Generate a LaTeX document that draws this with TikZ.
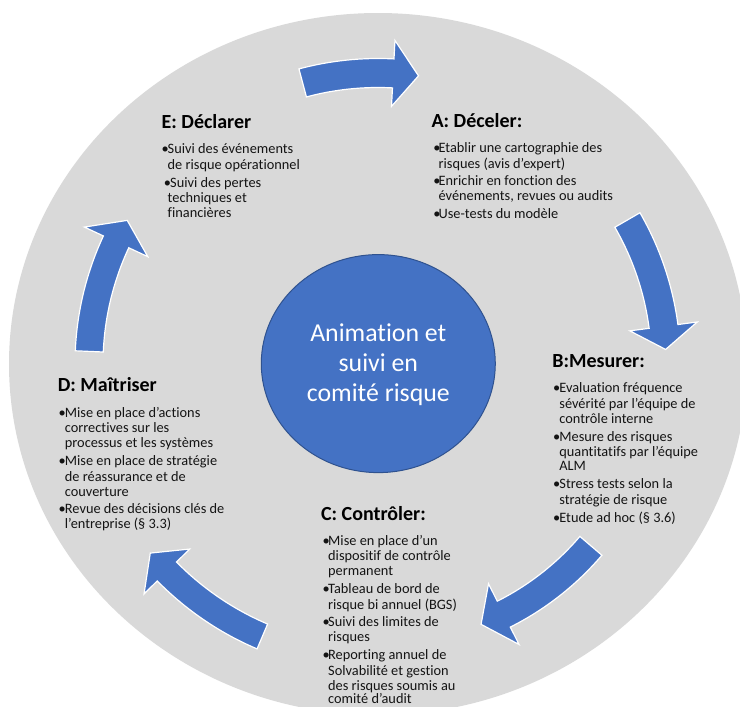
\documentclass[tikz,border=0pt]{standalone}
\usepackage{fontspec}
\setmainfont{Carlito}[Ligatures=NoCommon]
\usetikzlibrary{shapes.geometric}
\definecolor{bggrey}{HTML}{D9D9D9}
\definecolor{hubblue}{HTML}{4472C4}
\definecolor{hubline}{HTML}{2F528F}
\definecolor{txtcol}{HTML}{141414}
\newcommand\bodyfont{\fontsize{14.35pt}{15.2pt}\selectfont}
\newcommand\headfont{\fontsize{20pt}{24pt}\selectfont\bfseries}
\newcommand\hubfont{\fontsize{25.8pt}{31pt}\selectfont}
\newcommand\bl[1]{\makebox[#1][l]{\textbullet}}
\newcommand\cycarrow[6]{%
  \pgfmathsetmacro\cyRo{#1+#2}\pgfmathsetmacro\cyRi{#1-#2}%
  \pgfmathsetmacro\cyHo{#1+#6}\pgfmathsetmacro\cyHi{#1-#6}%
  \filldraw[arrowshape] (#3:\cyRo) arc[start angle=#3,end angle=#4,radius=\cyRo]
    -- (#4:\cyHo) -- (#5:#1) -- (#4:\cyHi) -- (#4:\cyRi)
    arc[start angle=#4,end angle=#3,radius=\cyRi] -- cycle;}
\tikzset{
  txt/.style={anchor=base west, inner sep=0pt, font=\bodyfont, text=txtcol},
  head/.style={anchor=base west, inner sep=0pt, font=\headfont, text=black},
  hubtxt/.style={anchor=base, inner sep=0pt, font=\hubfont, text=white},
  hub/.style={ellipse, fill=hubblue, draw=hubline, line width=1pt, inner sep=0pt},
  arrowshape/.style={fill=hubblue, draw=white, line width=1.2pt, line join=miter}
}
\begin{document}
\begin{tikzpicture}[x=1pt,y=1pt]
\useasboundingbox (0,0) rectangle (740,-707);
\clip (0,0) rectangle (740,-707);
% background disc
\fill[bggrey] (378,-364) ellipse [x radius=369, y radius=351];
% central hub
\node[hub, minimum width=234pt, minimum height=218pt] (hub) at (378.3,-363.6) {};
\node[hubtxt] (c1) at (378.3,-341.5) {Animation et};
\node[hubtxt] (c2) at (378.3,-371.3) {suivi en};
\node[hubtxt] (c3) at (378.3,-401.3) {comité risque};
% cycle arrows
\begin{scope}[shift={(378,-364)}]
  \cycarrow{291}{14.5}{105}{87}{82}{33}
  \cycarrow{288}{14.5}{30}{7.5}{2.9}{34}
  \cycarrow{280}{14.5}{-40.5}{-63.3}{-68.4}{34}
  \cycarrow{296}{13.5}{-113}{-135.5}{-140.3}{32}
  \cycarrow{289}{14}{177.5}{155}{150.2}{35}
\end{scope}
% E block
\node[head] (eh) at (161.4,-128.3) {E: Déclarer};
\node[txt] (e1) at (161.4,-153.8) {\bl{6.1pt}Suivi des événements};
\node[txt] (e2) at (167.5,-169.1) {de risque opérationnel};
\node[txt] (e3) at (163.6,-187.1) {\bl{6.4pt}Suivi des pertes};
\node[txt] (e4) at (167.5,-202.5) {techniques et};
\node[txt] (e5) at (167.5,-217.8) {financières};
% A block
\node[head] (ah) at (431.3,-127.4) {A: Déceler:};
\node[txt] (a1) at (433.2,-152.9) {\bl{5.2pt}Etablir une cartographie des};
\node[txt] (a2) at (438.4,-168.2) {risques (avis d’expert)};
\node[txt] (a3) at (433.2,-185.3) {\bl{5.2pt}Enrichir en fonction des};
\node[txt] (a4) at (438.4,-200.7) {événements, revues ou audits};
\node[txt] (a5) at (433.2,-218.7) {\bl{5.2pt}Use-tests du modèle};
% B block
\node[head] (bh) at (552.1,-367.3) {B:Mesurer:};
\node[txt] (b1) at (553,-392.7) {\bl{6.2pt}Evaluation fréquence};
\node[txt] (b2) at (559.2,-408.1) {sévérité par l’équipe de};
\node[txt] (b3) at (559.2,-423.4) {contrôle interne};
\node[txt] (b4) at (553,-441.4) {\bl{6.2pt}Mesure des risques};
\node[txt] (b5) at (559.2,-456.3) {quantitatifs par l’équipe};
\node[txt] (b6) at (559.2,-470.7) {ALM};
\node[txt] (b7) at (553,-488.8) {\bl{6.2pt}Stress tests selon la};
\node[txt] (b8) at (559.2,-504.1) {stratégie de risque};
\node[txt] (b9) at (553,-522.1) {\bl{6.2pt}Etude ad hoc (§ 3.6)};
% C block
\node[head] (ch) at (320.9,-520.6) {C: Contrôler:};
\node[txt] (k1) at (322.3,-545.1) {\bl{5.7pt}Mise en place d’un};
\node[txt] (k2) at (328,-560.5) {dispositif de contrôle};
\node[txt] (k3) at (328,-575.8) {permanent};
\node[txt] (k4) at (322.3,-593.8) {\bl{5.7pt}Tableau de bord de};
\node[txt] (k5) at (328,-609.1) {risque bi annuel (BGS)};
\node[txt] (k6) at (322.3,-626.3) {\bl{5.7pt}Suivi des limites de};
\node[txt] (k7) at (328,-641.6) {risques};
\node[txt] (k8) at (322.3,-659.6) {\bl{5.7pt}Reporting annuel de};
\node[txt] (k9) at (328,-675) {Solvabilité et gestion};
\node[txt] (k10) at (328,-690.3) {des risques soumis au};
\node[txt] (k11) at (328,-703.6) {comité d’audit};
% D block
\node[head] (dh) at (57.6,-391.2) {D: Maîtriser};
\node[txt] (d1) at (58.5,-417.1) {\bl{6.2pt}Mise en place d’actions};
\node[txt] (d2) at (64.7,-432.4) {correctives sur les};
\node[txt] (d3) at (64.7,-447.7) {processus et les systèmes};
\node[txt] (d4) at (58.5,-465.8) {\bl{6.2pt}Mise en place de stratégie};
\node[txt] (d5) at (64.7,-481.1) {de réassurance et de};
\node[txt] (d6) at (64.7,-496.4) {couverture};
\node[txt] (d7) at (58.5,-513.6) {\bl{6.2pt}Revue des décisions clés de};
\node[txt] (d8) at (64.7,-528.9) {l’entreprise (§ 3.3)};
\end{tikzpicture}
\end{document}
